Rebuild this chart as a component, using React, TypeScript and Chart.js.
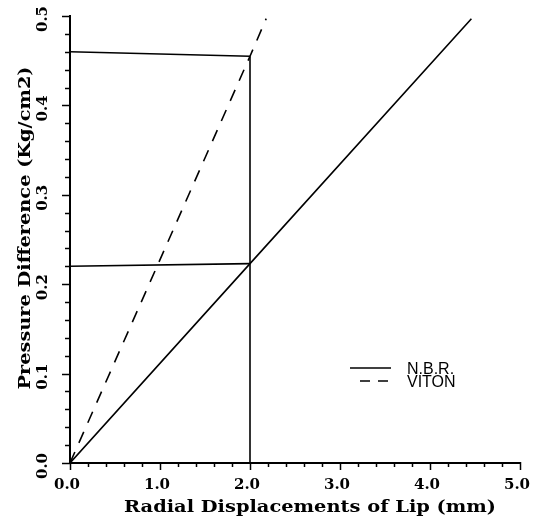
import React, { useEffect, useRef } from "react";
import { Chart, registerables } from "chart.js";

Chart.register(...registerables);

// Data
const nbrX = [0, 2.0, 4.46];
const nbrY = [0, 0.223, 0.497];
const vitonX = [0, 2.0, 2.18];
const vitonY = [0, 0.455, 0.497];
const upperGuideX = [0, 2.0];
const upperGuideY = [0.46, 0.455];
const lowerGuideX = [0, 2.0];
const lowerGuideY = [0.22, 0.223];
const verticalGuideX = [2.0, 2.0];
const verticalGuideY = [0, 0.455];

const xTickLabels = ["0.0", "1.0", "2.0", "3.0", "4.0", "5.0"];
const yTickLabels = ["0.0", "0.1", "0.2", "0.3", "0.4", "0.5"];
const legendLabels = ["N.B.R.", "VITON"];
const xTitle = "Radial Displacements of Lip (mm)";
const yTitle = "Pressure Difference (Kg/cm2)";

const pts = (xs: number[], ys: number[]) => xs.map((x, i) => ({ x, y: ys[i] }));

const serifBold = (px: number) => `bold ${px}px "DejaVu Serif", serif`;

function drawFitted(ctx: CanvasRenderingContext2D, text: string, width: number) {
  const w = ctx.measureText(text).width;
  const sx = width / w;
  ctx.save();
  ctx.scale(sx, 1);
  ctx.fillText(text, 0, 0);
  ctx.restore();
}

const decorPlugin = {
  id: "decor",
  afterDraw(chart: any) {
    const ctx = chart.ctx as CanvasRenderingContext2D;
    const xs = chart.scales.x;
    const ys = chart.scales.y;
    const area = chart.chartArea;
    ctx.save();
    ctx.strokeStyle = "#000";
    ctx.fillStyle = "#000";
    ctx.lineWidth = 1.5;
    // y ticks
    ys.ticks.forEach((t: any) => {
      const p = Math.round(ys.getPixelForValue(t.value)) + 0.5;
      const major = Math.abs(t.value * 10 - Math.round(t.value * 10)) < 1e-6;
      const len = major ? 8 : 5;
      ctx.beginPath();
      ctx.moveTo(area.left - len, p);
      ctx.lineTo(area.left + 1, p);
      ctx.stroke();
    });
    // x ticks
    xs.ticks.forEach((t: any) => {
      const p = Math.round(xs.getPixelForValue(t.value)) + 0.5;
      const major = Math.abs(t.value - Math.round(t.value)) < 1e-6;
      const len = major ? 7 : 4;
      ctx.beginPath();
      ctx.moveTo(p, area.bottom - 1);
      ctx.lineTo(p, area.bottom + len);
      ctx.stroke();
    });
    // y tick labels (rotated)
    ctx.font = serifBold(15);
    yTickLabels.forEach((lab) => {
      const v = parseFloat(lab);
      const p = ys.getPixelForValue(v) + 3;
      ctx.save();
      ctx.translate(43, p);
      ctx.rotate(-Math.PI / 2);
      ctx.textAlign = "center";
      ctx.textBaseline = "middle";
      ctx.fillText(lab, 0, 0);
      ctx.restore();
    });
    // x tick labels
    xTickLabels.forEach((lab) => {
      const v = parseFloat(lab);
      const p = xs.getPixelForValue(v) - 3;
      ctx.textAlign = "center";
      ctx.textBaseline = "middle";
      ctx.fillText(lab, p, 485);
    });
    // titles
    ctx.font = serifBold(17);
    ctx.textAlign = "center";
    ctx.textBaseline = "alphabetic";
    ctx.save();
    ctx.translate(310, 512);
    drawFitted(ctx, xTitle, 372);
    ctx.restore();
    ctx.save();
    ctx.translate(30, 228);
    ctx.rotate(-Math.PI / 2);
    drawFitted(ctx, yTitle, 323);
    ctx.restore();
    // legend
    ctx.font = `16px "Liberation Sans", sans-serif`;
    ctx.textAlign = "left";
    ctx.textBaseline = "middle";
    ctx.lineWidth = 1.6;
    ctx.beginPath();
    ctx.setLineDash([]);
    ctx.moveTo(350, 368);
    ctx.lineTo(391, 368);
    ctx.stroke();
    ctx.fillText(legendLabels[0], 407, 370);
    ctx.beginPath();
    ctx.setLineDash([10, 8]);
    ctx.moveTo(360, 381);
    ctx.lineTo(391, 381);
    ctx.stroke();
    ctx.setLineDash([]);
    ctx.fillText(legendLabels[1], 407, 383);
    ctx.restore();
  },
};

export default function App() {
  const ref = useRef<HTMLCanvasElement>(null);
  useEffect(() => {
    if (!ref.current) return;
    const line = { showLine: true, pointRadius: 0, borderColor: "#000", borderWidth: 1.6, fill: false };
    const chart = new Chart(ref.current, {
      type: "scatter",
      data: {
        datasets: [
          { ...line, label: legendLabels[0], data: pts(nbrX, nbrY) },
          { ...line, label: legendLabels[1], data: pts(vitonX, vitonY), borderDash: [12, 10] },
          { ...line, label: "upper", data: pts(upperGuideX, upperGuideY) },
          { ...line, label: "lower", data: pts(lowerGuideX, lowerGuideY) },
          { ...line, label: "vertical", data: pts(verticalGuideX, verticalGuideY) },
        ],
      },
      options: {
        responsive: false,
        animation: false,
        layout: { padding: { top: 16, right: 14, left: 0, bottom: 0 } },
        plugins: { legend: { display: false }, tooltip: { enabled: false } },
        scales: {
          x: {
            type: "linear",
            min: 0,
            max: 5,
            ticks: { stepSize: 0.2, display: false },
            grid: { display: false },
            border: { display: true, color: "#000", width: 2 },
            afterFit: (s: any) => { s.height = 57; },
          },
          y: {
            type: "linear",
            min: 0,
            max: 0.5,
            ticks: { stepSize: 0.02, display: false },
            grid: { display: false },
            border: { display: true, color: "#000", width: 2 },
            afterFit: (s: any) => { s.width = 70; },
          },
        },
      },
      plugins: [decorPlugin],
    });
    return () => chart.destroy();
  }, []);
  return (
    <div style={{ position: "absolute", left: 0, top: 0, width: 534, height: 520, background: "#fff" }}>
      <canvas ref={ref} width={534} height={520} />
    </div>
  );
}
